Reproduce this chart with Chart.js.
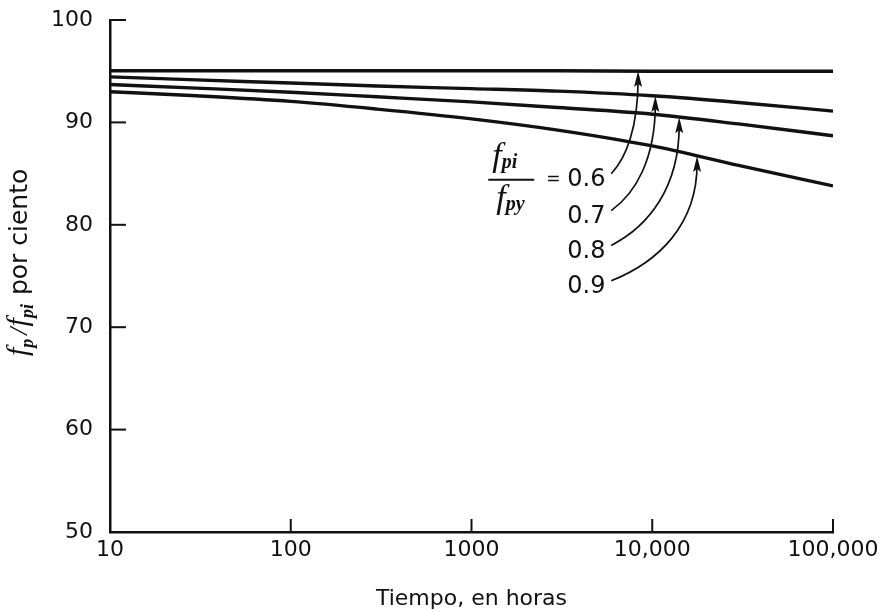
<!DOCTYPE html>
<html>
<head>
<meta charset="utf-8">
<script src="https://cdn.jsdelivr.net/npm/chart.js@4"></script>
<style>
  html, body { margin: 0; padding: 0; background: #fff; }
  #wrap { width: 887px; height: 612px; }
</style>
</head>
<body>
<div id="wrap"><canvas id="c" width="887" height="612"></canvas></div>
<script>
/* Relajación de acero de presfuerzo: fp/fpi vs tiempo (log), una curva por fpi/fpy. */
const TIME = [10, 30, 100, 300, 1000, 3000, 10000, 30000, 100000];   // horas
const R06 = [95.05, 95.05, 95.05, 95.05, 95.05, 95.05, 95.0, 95.0, 95.0];
const R07 = [94.45, 94.15, 93.85, 93.55, 93.3, 93.05, 92.6, 91.95, 91.1];
const R08 = [93.7, 93.35, 92.95, 92.5, 92.0, 91.45, 90.8, 89.85, 88.7];
const R09 = [93.0, 92.6, 92.05, 91.3, 90.35, 89.25, 87.7, 85.8, 83.8];

const X_TICKS = [10, 100, 1000, 10000, 100000];
const X_TICK_LABELS = ["10", "100", "1000", "10,000", "100,000"];
const Y_TICKS = [50, 60, 70, 80, 90, 100];

const RATIO_LABELS = ["0.6", "0.7", "0.8", "0.9"];
const SERIES = [R06, R07, R08, R09];
// annotation anchors in data space: label centre value, where the arrow hits the curve (hours)
const LABEL_T = 3430;
const LABEL_V = [84.4, 80.8, 77.4, 73.95];
const ARROW_START_T = 5930;
const ARROW_TIP_T = [8350, 10400, 14100, 17700];

// linear interpolation in log(t) — used to put arrow tips on the curves
const valueAt = (ys, t) => {
  const lt = Math.log10(t);
  for (let i = 0; i < TIME.length - 1; i++) {
    const a = Math.log10(TIME[i]), b = Math.log10(TIME[i + 1]);
    if (lt >= a && lt <= b) return ys[i] + (ys[i + 1] - ys[i]) * (lt - a) / (b - a);
  }
  return ys[ys.length - 1];
};

const INK = "#111";
const SANS = '"DejaVu Sans", sans-serif';
const SERIF = '"Liberation Serif", serif';

function drawParts(ctx, x, y, parts) {
  let cx = x;
  for (const p of parts) {
    ctx.font = p.font;
    ctx.fillText(p.t, cx, y + (p.dy || 0));
    cx += ctx.measureText(p.t).width + (p.gap || 0);
  }
  return cx;
}

const annot = {
  id: "annot",
  afterDatasetsDraw(chart) {
    const { ctx, scales: { x, y } } = chart;
    ctx.save();
    ctx.fillStyle = INK; ctx.strokeStyle = INK;

    // inward ticks
    ctx.lineWidth = 2;
    const x0 = x.left, yb = y.bottom;
    Y_TICKS.slice(1).forEach(v => {
      const py = y.getPixelForValue(v);
      ctx.beginPath(); ctx.moveTo(x0, py); ctx.lineTo(x0 + 16, py); ctx.stroke();
    });
    X_TICKS.slice(1).forEach(v => {
      const px = x.getPixelForValue(v);
      ctx.beginPath(); ctx.moveTo(px, yb); ctx.lineTo(px, yb - 13); ctx.stroke();
    });

    // ratio labels + curved arrows
    ctx.textBaseline = "middle"; ctx.textAlign = "left";
    const lx = x.getPixelForValue(LABEL_T);
    RATIO_LABELS.forEach((lab, i) => {
      const ly = y.getPixelForValue(LABEL_V[i]);
      ctx.font = "24px " + SANS;
      ctx.fillText(lab, lx - 1, ly);
      const sx = x.getPixelForValue(ARROW_START_T), sy = ly - 6;
      const tx = x.getPixelForValue(ARROW_TIP_T[i]);
      const ty = y.getPixelForValue(valueAt(SERIES[i], ARROW_TIP_T[i]));
      const dx = tx - sx, dy = sy - ty;
      ctx.lineWidth = 1.7;
      ctx.beginPath();
      ctx.moveTo(sx, sy);
      ctx.bezierCurveTo(sx + 0.55 * dx, sy - 0.15 * dy, tx, sy - 0.45 * dy, tx, ty + 8);
      ctx.stroke();
      ctx.beginPath();
      ctx.moveTo(tx, ty); ctx.lineTo(tx - 4, ty + 16); ctx.lineTo(tx, ty + 13); ctx.lineTo(tx + 4, ty + 16);
      ctx.closePath(); ctx.fill();
    });

    // fpi / fpy = fraction left of "0.6"
    const fy = y.getPixelForValue(LABEL_V[0]);
    ctx.textBaseline = "alphabetic";
    drawParts(ctx, lx - 76, fy - 14, [
      { t: "f", font: "italic 34px " + SERIF, gap: 0 },
      { t: "pi", font: "bold italic 20px " + SERIF, dy: 2 },
    ]);
    drawParts(ctx, lx - 72, fy + 28, [
      { t: "f", font: "italic 34px " + SERIF, gap: 0 },
      { t: "py", font: "bold italic 20px " + SERIF, dy: 2 },
    ]);
    ctx.fillRect(lx - 80, fy - 1, 46, 2);
    ctx.font = "17px " + SANS; ctx.textBaseline = "middle";
    ctx.fillText("=", lx - 22, fy);

    // y title, rotated
    ctx.save();
    ctx.translate(27, 356);
    ctx.rotate(-Math.PI / 2);
    ctx.textBaseline = "alphabetic";
    drawParts(ctx, 0, 0, [
      { t: "f", font: "italic 30px " + SERIF, gap: 0 },
      { t: "p", font: "bold italic 18px " + SERIF, dy: 6, gap: 4 },
      { t: "/", font: "italic 26px " + SERIF, gap: 1 },
      { t: "f", font: "italic 30px " + SERIF, gap: 0 },
      { t: "pi", font: "bold italic 18px " + SERIF, dy: 6, gap: 9 },
      { t: "por ciento", font: "25px " + SANS },
    ]);
    ctx.restore();

    ctx.restore();
  },
};

const mk = ys => TIME.map((t, i) => ({ x: t, y: ys[i] }));

new Chart(document.getElementById("c"), {
  type: "line",
  data: {
    datasets: SERIES.map((s, i) => ({
      label: RATIO_LABELS[i], data: mk(s),
      borderColor: INK, borderWidth: 3.4, pointRadius: 0,
      cubicInterpolationMode: "monotone", fill: false,
    })),
  },
  options: {
    responsive: false, animation: false,
    layout: { padding: { top: 20, right: 54, left: 0, bottom: 0 } },
    plugins: { legend: { display: false }, tooltip: { enabled: false } },
    scales: {
      x: {
        type: "logarithmic", min: 10, max: 100000,
        afterBuildTicks: s => { s.ticks = X_TICKS.map(v => ({ value: v })); },
        afterFit: s => { s.height = 80; s.paddingLeft = 0; s.paddingRight = 0; },
        grid: { display: false, drawTicks: false },
        border: { display: true, color: INK, width: 2.5 },
        ticks: { autoSkip: false, maxRotation: 0, padding: 5, color: INK,
          font: { family: SANS, size: 22 },
          callback: (v, i) => X_TICK_LABELS[i] },
        title: { display: true, text: "Tiempo, en horas", color: INK,
          font: { family: SANS, size: 22 }, padding: { top: 18, bottom: 0 } },
      },
      y: {
        min: 50, max: 100,
        afterBuildTicks: s => { s.ticks = Y_TICKS.map(v => ({ value: v })); },
        afterFit: s => { s.width = 110; s.paddingTop = 0; s.paddingBottom = 0; },
        grid: { display: false, drawTicks: false },
        border: { display: true, color: INK, width: 2.5 },
        ticks: { padding: 17, color: INK, font: { family: SANS, size: 22 } },
      },
    },
  },
  plugins: [annot],
});
</script>
</body>
</html>
